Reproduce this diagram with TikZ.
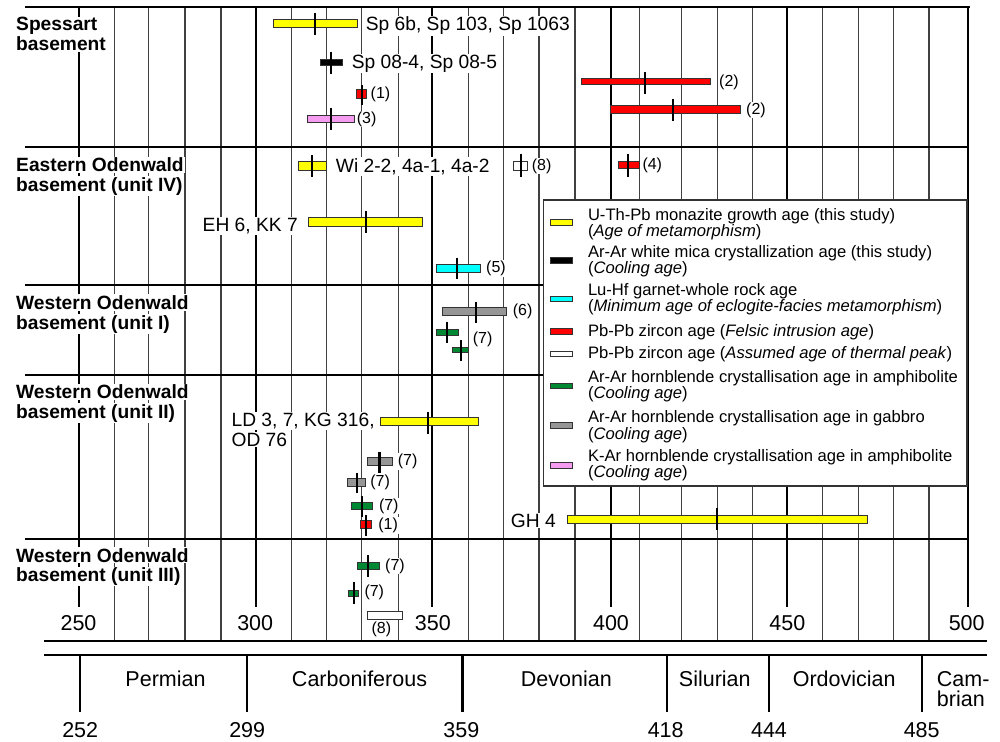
\documentclass[tikz,border=0pt]{standalone}
\usepackage{fontspec}
\setmainfont{Liberation Sans}
\definecolor{myyellow}{RGB}{255,255,0}
\definecolor{myred}{RGB}{255,0,0}
\definecolor{mycyan}{RGB}{0,255,255}
\definecolor{mygreen}{RGB}{0,136,51}
\definecolor{mygray}{RGB}{150,150,150}
\definecolor{mypink}{RGB}{245,155,240}
\newcommand\agebar[8]{\draw[bar,fill=#1] (#2,#4) rectangle (#3,#5); \draw[tickmark] (#6,#7) -- (#6,#8);}
\newcommand\legswatch[3]{\draw[bar,fill=#1] (550,#2) rectangle (572.3,#3);}
\begin{document}
\begin{tikzpicture}[x=1pt,y=-1pt,
  major/.style={line width=2.2pt,black},
  minor/.style={line width=1.1pt,black!75},
  sepline/.style={line width=2.2pt,black},
  bar/.style={draw=black!80,line width=1pt},
  tickmark/.style={line width=2.2pt,black},
  rowlab/.style={font=\fontsize{19.2}{20}\selectfont\bfseries,fill=white,inner sep=1pt,anchor=base west},
  datalab/.style={font=\fontsize{19.2}{20}\selectfont,fill=white,inner sep=1pt,anchor=base west},
  reflab/.style={font=\fontsize{16}{17}\selectfont,fill=white,inner sep=0.8pt,anchor=west},
  leglab/.style={font=\fontsize{16.6}{17}\selectfont,inner sep=0pt,anchor=base west},
  axlab/.style={font=\fontsize{21.5}{22}\selectfont,inner sep=0pt,anchor=base},
]
\useasboundingbox (0,0) rectangle (1000,741);
\fill[white] (0,0) rectangle (1000,741);
% grid
\foreach \x in {114.3,148.3,185,221,291.7,326.7,361.7,398.3,468.3,503.3,539,575,639.3,681.7,717.3,752.3,822.7,858.3,893.3,929}
  \draw[minor] (\x,7.3) -- (\x,641);
\foreach \x in {78.7,255.7,432.3,610.7,787.3,968.3}
  \draw[major] (\x,7.3) -- (\x,607);
\draw[sepline] (25,7.3) -- (970,7.3);
\foreach \y in {146.7,285.3,375.3,539} \draw[sepline] (25,\y) -- (968.3,\y);
\draw[sepline] (44,641) -- (987,641);
\draw[sepline] (44,655) -- (987,655);
% period ticks
\foreach \x in {80.2,247.2,462.5,666.7,769,921.7} \draw[sepline] (\x,655) -- (\x,711.7);
% row labels
\node[rowlab] (spa) at (15,31) {Spessart};
\node[rowlab] (spb) at (15,50.5) {basement};
\node[rowlab] (eoa) at (15,171.5) {Eastern Odenwald};
\node[rowlab] (eob) at (15,191) {basement (unit IV)};
\node[rowlab] (w1a) at (15,309.4) {Western Odenwald};
\node[rowlab] (w1b) at (15,329) {basement (unit I)};
\node[rowlab] (w2a) at (15,398.7) {Western Odenwald};
\node[rowlab] (w2b) at (15,418) {basement (unit II)};
\node[rowlab] (w3a) at (15,562) {Western Odenwald};
\node[rowlab] (w3b) at (15,581.5) {basement (unit III)};
% legend
\draw[draw=black!80,fill=white,line width=1.1pt] (543.3,200) rectangle (967,486);
\legswatch{myyellow}{219.5}{225.5}
\legswatch{black}{257.3}{263.3}
\legswatch{mycyan}{296}{301.7}
\legswatch{myred}{328.7}{334}
\legswatch{white}{351}{356.3}
\legswatch{mygreen}{383}{388.7}
\legswatch{mygray}{422.7}{428.7}
\legswatch{mypink}{462}{468}
\node[leglab] (l1a) at (587.8,220) {U-Th-Pb monazite growth age (this study)};
\node[leglab] (l1b) at (587.8,236) {(\textit{Age of metamorphism})};
\node[leglab] (l2a) at (587.8,257.5) {Ar-Ar white mica crystallization age (this study)};
\node[leglab] (l2b) at (587.8,273.5) {(\textit{Cooling age})};
\node[leglab] (l3a) at (587.8,295) {Lu-Hf garnet-whole rock age};
\node[leglab] (l3b) at (587.8,311) {(\textit{Minimum age of eclogite-facies metamorphism})};
\node[leglab] (l4) at (587.8,336) {Pb-Pb zircon age (\textit{Felsic intrusion age})};
\node[leglab] (l5) at (587.8,358.5) {Pb-Pb zircon age (\textit{Assumed age of thermal peak})};
\node[leglab] (l6a) at (587.8,382) {Ar-Ar hornblende crystallisation age in amphibolite};
\node[leglab] (l6b) at (587.8,398.5) {(\textit{Cooling age})};
\node[leglab] (l7a) at (587.8,422.5) {Ar-Ar hornblende crystallisation age in gabbro};
\node[leglab] (l7b) at (587.8,439) {(\textit{Cooling age})};
\node[leglab] (l8a) at (587.8,461) {K-Ar hornblende crystallisation age in amphibolite};
\node[leglab] (l8b) at (587.8,477.5) {(\textit{Cooling age})};
% data labels
\node[datalab] (spA) at (364.7,30.7) {Sp 6b, Sp 103, Sp 1063};
\node[datalab] (spB) at (350.7,68.5) {Sp 08-4, Sp 08-5};
\node[reflab] (r1) at (369.7,94) {(1)};
\node[reflab] (r3) at (355.9,119) {(3)};
\node[reflab] (r2a) at (718.2,82) {(2)};
\node[reflab] (r2b) at (745.2,110) {(2)};
\node[datalab] (wi) at (334.7,172.3) {Wi 2-2, 4a-1, 4a-2};
\node[reflab] (r8a) at (530.9,166) {(8)};
\node[reflab] (r4) at (641.5,165) {(4)};
\node[datalab,anchor=base east] (eh) at (298.9,231.5) {EH 6, KK 7};
\node[reflab] (r5) at (485.2,268.3) {(5)};
\node[reflab] (r6) at (511.9,311.7) {(6)};
\node[reflab] (r7a) at (471.9,339.3) {(7)};
\node[datalab] (ld1) at (230.4,426.5) {LD 3, 7, KG 316,};
\node[datalab] (ld2) at (230.4,446) {OD 76};
\node[reflab] (r7b) at (396.9,461.7) {(7)};
\node[reflab] (r7c) at (369.4,482.7) {(7)};
\node[reflab] (r7d) at (378,506) {(7)};
\node[reflab] (r1b) at (377.3,525.7) {(1)};
\node[datalab,anchor=base east] (gh) at (557,527) {GH 4};
\node[reflab] (r7e) at (384.2,566) {(7)};
\node[reflab] (r7f) at (363.5,592.7) {(7)};
\node[reflab,anchor=center] (r8b) at (381.4,629.3) {(8)};
% bars: Spessart
\agebar{myyellow}{273.3}{357.7}{19.3}{27.3}{315}{13.3}{35}
\agebar{black}{320}{342.3}{59.3}{65.3}{330.7}{51.7}{74}
\agebar{myred}{356}{366.7}{90}{99}{361.7}{85}{105}
\agebar{mypink}{307.3}{354.3}{116}{122}{330.7}{108}{130}
\agebar{myred}{581}{710.7}{78.3}{84.7}{645.3}{71.7}{94}
\agebar{myred}{610.7}{740.7}{105.7}{113.3}{673}{99}{120.7}
% Eastern Odenwald
\agebar{myyellow}{298.9}{326.4}{161.7}{170.7}{312.3}{155}{176.7}
\agebar{white}{513.7}{527.7}{161}{170}{520.7}{154.3}{176.7}
\agebar{myred}{618.3}{639.3}{161.7}{168.3}{628.3}{154.3}{176.7}
\agebar{myyellow}{308.9}{422.2}{217.7}{226.7}{365.7}{211}{232.7}
\agebar{mycyan}{436}{480.7}{264.3}{272.7}{457.3}{258.3}{279.3}
% unit I
\agebar{mygray}{442.3}{506.7}{307.3}{315.7}{476}{301.7}{322.7}
\agebar{mygreen}{436.7}{458.7}{329}{335}{447.3}{321.7}{343.3}
\agebar{mygreen}{452.7}{468.3}{347.7}{352.7}{461}{340}{361}
% unit II
\agebar{myyellow}{380.5}{478}{417.7}{425.7}{427.7}{412.3}{434}
\agebar{mygray}{367.8}{392.6}{457.3}{465}{379.5}{451.7}{472.7}
\agebar{mygray}{347.8}{365.7}{478.3}{486.7}{357.1}{472.7}{493.3}
\agebar{mygreen}{351.2}{372.9}{502.3}{509.3}{361.6}{496}{517.3}
\agebar{myred}{360.9}{371.2}{520.7}{528.3}{366}{515}{536}
\agebar{myyellow}{567.7}{867.3}{515.7}{523.3}{717.3}{508.3}{530}
% unit III
\agebar{mygreen}{357.4}{379.5}{562.3}{569}{367.8}{555}{576.7}
\agebar{mygreen}{348.5}{358.1}{590}{596}{353.7}{582.3}{604}
\draw[bar,fill=white] (367.8,611) rectangle (402.9,619.3);
% axis numbers
\node[axlab] (a250) at (78.5,630) {250};
\node[axlab] (a300) at (255.2,630) {300};
\node[axlab] (a350) at (432.9,630) {350};
\node[axlab] (a400) at (611,630) {400};
\node[axlab] (a450) at (787.3,630) {450};
\node[axlab] (a500) at (966.7,630) {500};
% periods
\node[axlab] (perm) at (165.5,686) {Permian};
\node[axlab] (carb) at (359.5,686) {Carboniferous};
\node[axlab] (devo) at (566.3,686) {Devonian};
\node[axlab] (silu) at (714.8,686) {Silurian};
\node[axlab] (ordo) at (844.2,686) {Ordovician};
\node[axlab,anchor=base west] (cam1) at (936.7,686.5) {Cam-};
\node[axlab,anchor=base west] (cam2) at (936.7,706.5) {brian};
\node[axlab] (b252) at (80.2,737.5) {252};
\node[axlab] (b299) at (247.2,737.5) {299};
\node[axlab] (b359) at (461.4,737.5) {359};
\node[axlab] (b418) at (665.7,737.5) {418};
\node[axlab] (b444) at (769,737.5) {444};
\node[axlab] (b485) at (921.7,737.5) {485};
\end{tikzpicture}
\end{document}
